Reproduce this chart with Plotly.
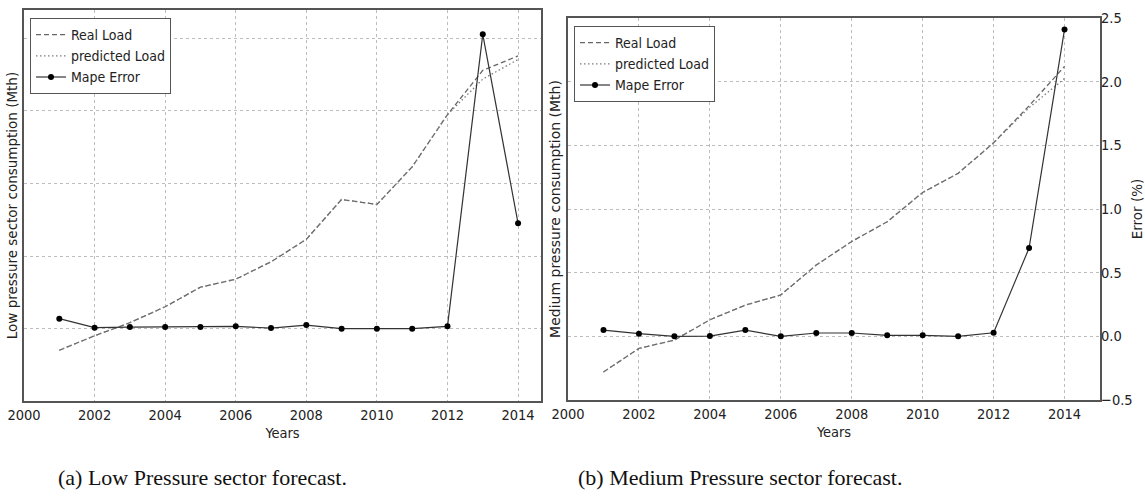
import plotly.graph_objects as go

# ---------------- data ----------------
years = list(range(2001, 2015))
x_tick_vals = [2000, 2002, 2004, 2006, 2008, 2010, 2012, 2014]
x_tick_text = ["2000", "2002", "2004", "2006", "2008", "2010", "2012", "2014"]
err_tick_vals = [-0.5, 0.0, 0.5, 1.0, 1.5, 2.0, 2.5]
err_tick_text = ["\u22120.5", "0.0", "0.5", "1.0", "1.5", "2.0", "2.5"]

# (a) Low pressure sector (load in unlabeled axis units, error in %)
low_real = [0.70, 0.90, 1.08, 1.30, 1.57, 1.68, 1.92, 2.23, 2.78, 2.71, 3.23, 3.95, 4.56, 4.76]
low_pred = [0.70, 0.90, 1.08, 1.30, 1.57, 1.68, 1.92, 2.23, 2.78, 2.71, 3.23, 3.95, 4.44, 4.71]
low_mape = [0.069, 0.007, 0.011, 0.011, 0.011, 0.016, 0.004, 0.025, 0.0, 0.0, 0.0, 0.016, 2.034, 0.728]

# (b) Medium pressure sector
med_real = [0.44, 0.81, 0.94, 1.26, 1.49, 1.65, 2.12, 2.49, 2.80, 3.26, 3.56, 4.04, 4.62, 5.24]
med_pred = [0.44, 0.81, 0.94, 1.26, 1.49, 1.65, 2.12, 2.49, 2.80, 3.26, 3.56, 4.04, 4.59, 5.05]
med_mape = [0.049, 0.021, 0.0, 0.002, 0.049, 0.0, 0.026, 0.026, 0.008, 0.008, 0.0, 0.028, 0.693, 2.41]

# ---------------- style ----------------
W, H = 1145, 500
SANS = "DejaVu Sans Condensed, DejaVu Sans, sans-serif"
TXT = "#222222"
FRAME = "#555555"
GRID = "#bdbdbd"
tick_font = dict(family=SANS, size=14.5, color=TXT)
ytitle_font = dict(family="DejaVu Sans, sans-serif", size=13.5, color=TXT)

fig = go.Figure()


def add_panel(real, pred, mape, xa, ya_load, ya_err, legend):
    fig.add_trace(go.Scatter(x=years, y=real, mode="lines", name="Real Load",
                             line=dict(color="#666666", width=1.3, dash="5px,3px"),
                             xaxis=xa, yaxis=ya_load, legend=legend))
    fig.add_trace(go.Scatter(x=years, y=pred, mode="lines", name="predicted Load",
                             line=dict(color="#7a7a7a", width=1.3, dash="1.5px,2.5px"),
                             xaxis=xa, yaxis=ya_load, legend=legend))
    fig.add_trace(go.Scatter(x=years, y=mape, mode="lines+markers", name="Mape Error",
                             line=dict(color="#333333", width=1.2),
                             marker=dict(color="#000000", size=6),
                             xaxis=xa, yaxis=ya_err, legend=legend))


add_panel(low_real, low_pred, low_mape, "x", "y", "y3", "legend")
add_panel(med_real, med_pred, med_mape, "x2", "y2", "y4", "legend2")

xcommon = dict(tickvals=x_tick_vals, ticktext=x_tick_text, tickfont=tick_font,
               showgrid=True, gridcolor=GRID, griddash="dot", gridwidth=1,
               showline=True, linecolor=FRAME, linewidth=1.5, mirror=True,
               ticks="", zeroline=False, automargin=False,
               title=dict(text="Years", font=dict(family=SANS, size=14.5, color=TXT), standoff=6))

fig.update_layout(
    width=W, height=H,
    margin=dict(l=0, r=0, t=0, b=0),
    paper_bgcolor="white", plot_bgcolor="white",
    showlegend=True,
    xaxis=dict(domain=[24 / W, 541 / W], range=[2000, 2014.65], anchor="y", **xcommon),
    xaxis2=dict(domain=[568 / W, 1100 / W], range=[2000, 2015], anchor="y2", **xcommon),
    yaxis=dict(domain=[1 - 401 / H, 1 - 10 / H], range=[0, 5.393], anchor="x",
               dtick=1, tick0=0, showticklabels=False, ticks="", automargin=False,
               showgrid=True, gridcolor=GRID, griddash="dot", gridwidth=1,
               showline=True, linecolor=FRAME, linewidth=1.5, mirror=True, zeroline=False,
               title=dict(text="Low pressure sector consumption (Mth)", font=ytitle_font,
                          standoff=2)),
    yaxis3=dict(overlaying="y", side="right", anchor="x", range=[-0.5, 2.202], automargin=False,
                showticklabels=False, showgrid=False, ticks="", zeroline=False, showline=False),
    yaxis2=dict(domain=[1 - 400 / H, 1 - 18 / H], range=[0, 6], anchor="x2", automargin=False,
                showticklabels=False, ticks="", showgrid=False,
                showline=True, linecolor=FRAME, linewidth=1.5, mirror=True, zeroline=False,
                title=dict(text="Medium pressure consumption (Mth)",
                           font=dict(family="DejaVu Sans, sans-serif", size=14, color=TXT),
                           standoff=2)),
    yaxis4=dict(overlaying="y2", side="right", anchor="x2", range=[-0.5, 2.5], automargin=False,
                tickvals=err_tick_vals, ticktext=err_tick_text, tickfont=tick_font,
                showgrid=True, gridcolor=GRID, griddash="dot", gridwidth=1,
                ticks="", zeroline=False, showline=False,
                title=dict(text="Error (%)", font=ytitle_font, standoff=10)),
    legend=dict(x=30 / W, y=1 - 18 / H, xanchor="left", yanchor="top",
                bgcolor="white", bordercolor=FRAME, borderwidth=1, itemwidth=30,
                font=dict(family=SANS, size=14, color=TXT), tracegroupgap=0),
    legend2=dict(x=574 / W, y=1 - 26 / H, xanchor="left", yanchor="top",
                 bgcolor="white", bordercolor=FRAME, borderwidth=1, itemwidth=30,
                 font=dict(family=SANS, size=14, color=TXT), tracegroupgap=0),
)

caption_font = dict(family="Liberation Serif, DejaVu Serif, serif", size=22, color="#111111")
fig.add_annotation(text="(a) Low Pressure sector forecast.", x=202 / W, y=1 - 477 / H,
                   xref="paper", yref="paper", showarrow=False, font=caption_font,
                   xanchor="center", yanchor="middle")
fig.add_annotation(text="(b) Medium Pressure sector forecast.", x=740 / W, y=1 - 477 / H,
                   xref="paper", yref="paper", showarrow=False, font=caption_font,
                   xanchor="center", yanchor="middle")

fig.write_html("out.html")
